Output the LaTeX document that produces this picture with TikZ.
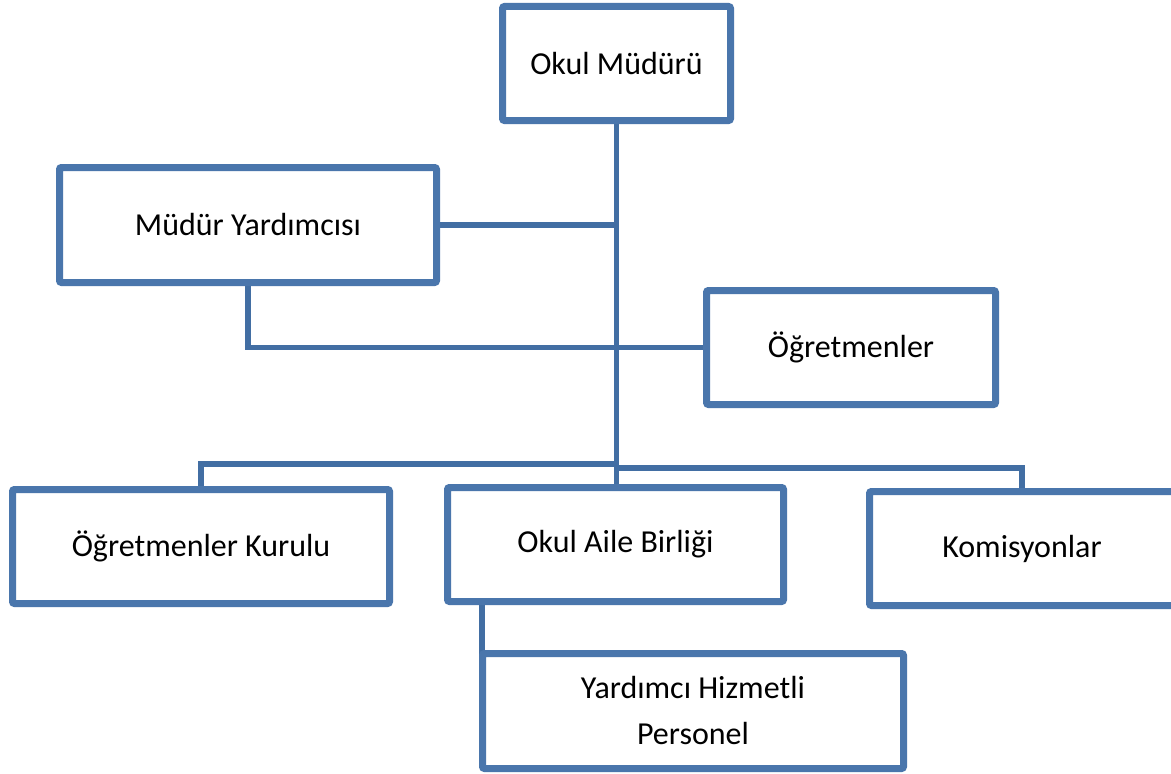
\documentclass[tikz,border=0pt]{standalone}
\usepackage{fontspec}
\setmainfont{Carlito}
\usetikzlibrary{shadows}
\pgfdeclarelayer{bottom}
\pgfdeclarelayer{background}
\pgfsetlayers{bottom,background,main}
\definecolor{boxblue}{RGB}{74,118,172}
\definecolor{lineblue}{RGB}{66,110,163}
\tikzset{
  orgbox/.style={draw=boxblue, line width=5.25pt, fill=white, rounded corners=1.5pt,
    inner sep=0pt, align=center, font=\fontsize{24pt}{34.5pt}\selectfont,
    drop shadow={opacity=0.22, shadow xshift=1.2pt, shadow yshift=-2.2pt}},
  conn/.style={draw=lineblue, line width=3.9pt, line join=miter}
}
\begin{document}
\begin{tikzpicture}[x=0.75pt, y=-0.75pt]
\begin{pgfonlayer}{bottom}
\fill[white] (0,0) rectangle (1171,774);
\end{pgfonlayer}
\useasboundingbox (0,0) rectangle (1171,774);
\clip (0,0) rectangle (1171,774);
% connector anchor points
\coordinate (busl) at (617,464);
\coordinate (busr) at (617,468);
\coordinate (ycx) at (482,0);
% boxes
\node[orgbox, minimum width=171pt, minimum height=85.5pt] (om) at (616.5,63.5) {Okul Müdürü};
\node[orgbox, minimum width=282.75pt, minimum height=86.25pt] (my) at (248,225) {Müdür Yardımcısı};
\node[orgbox, minimum width=216.75pt, minimum height=85.5pt] (ogr) at (851,347.5) {Öğretmenler};
\node[orgbox, minimum width=282.75pt, minimum height=85.5pt] (ok) at (201,546.5) {Öğretmenler Kurulu};
\node[orgbox, minimum width=252pt, minimum height=85.5pt] (oab) at (615.5,544.5) {Okul Aile Birliği};
\node[orgbox, minimum width=228.75pt, minimum height=85.5pt] (kom) at (1022,548.5) {Komisyonlar};
\node[orgbox, minimum width=315.75pt, minimum height=86.25pt] (yhp) at (693,711) {Yardımcı Hizmetli\\Personel};
% connectors (behind boxes)
\begin{pgfonlayer}{background}
\draw[conn] (om.south) -- (om.south |- oab.north);
\draw[conn] (my.east) -- (my.east -| om.south);
\draw[conn] (my.south) -- (my.south |- ogr.west) -- (ogr.west);
\draw[conn] (busl) -- (busl -| ok.north) -- (ok.north);
\draw[conn] (busr) -- (busr -| kom.north) -- (kom.north);
\draw[conn] (ycx |- oab.south) -- (ycx |- yhp.west);
\end{pgfonlayer}
\end{tikzpicture}
\end{document}
